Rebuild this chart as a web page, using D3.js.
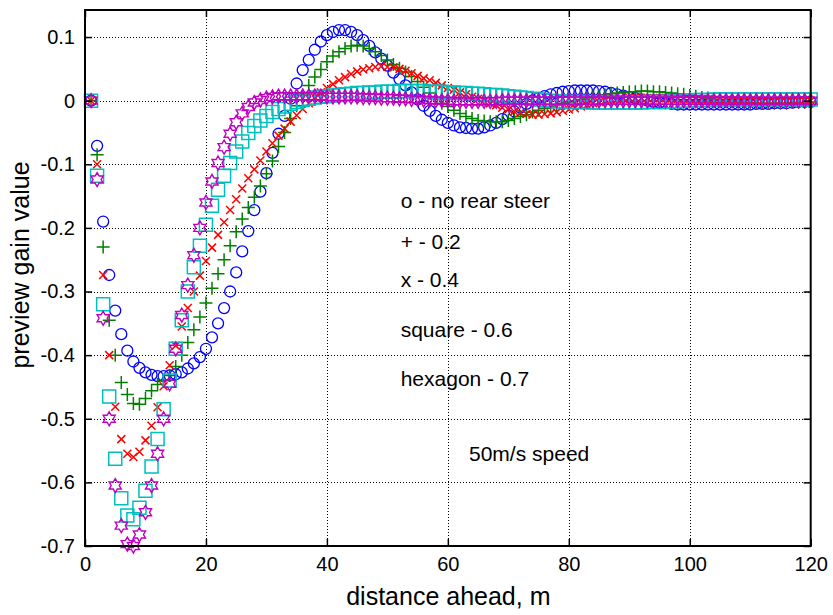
<!DOCTYPE html>
<html>
<head>
<meta charset="utf-8">
<script src="https://cdn.jsdelivr.net/npm/d3@7"></script>
<style>
  body { margin: 0; background: #fff; }
  svg { display: block; }
  text { font-family: "Liberation Sans", Arial, Helvetica, sans-serif; fill: #000; }
</style>
</head>
<body>
<svg id="chart" width="833" height="615"></svg>
<script>
// Preview distance samples (m), one point per metre
const distance = d3.range(1, 121);

// Preview gain for each rear-steer ratio
const noRearSteer = [
  0, -0.071, -0.19, -0.274, -0.33, -0.367, -0.393, -0.41, -0.42, -0.427,
  -0.431, -0.433, -0.433, -0.432, -0.43, -0.427, -0.421, -0.413, -0.403, -0.39,
  -0.372, -0.35, -0.326, -0.3, -0.27, -0.237, -0.205, -0.172, -0.143, -0.114,
  -0.082, -0.052, -0.024, 0.003, 0.027, 0.048, 0.064, 0.08, 0.093, 0.103,
  0.108, 0.111, 0.111, 0.108, 0.103, 0.095, 0.086, 0.076, 0.066, 0.055,
  0.044, 0.034, 0.024, 0.013, 0.002, -0.008, -0.016, -0.024, -0.03, -0.035,
  -0.039, -0.042, -0.043, -0.044, -0.044, -0.042, -0.039, -0.035, -0.029, -0.023,
  -0.017, -0.011, -0.005, 0, 0.004, 0.007, 0.01, 0.012, 0.014, 0.015,
  0.016, 0.016, 0.016, 0.016, 0.015, 0.014, 0.012, 0.01, 0.008, 0.006,
  0.004, 0.002, 0, -0.002, -0.003, -0.004, -0.005, -0.006, -0.006, -0.006,
  -0.006, -0.006, -0.006, -0.006, -0.006, -0.006, -0.006, -0.006, -0.006, -0.006,
  -0.005, -0.005, -0.005, -0.004, -0.004, -0.004, -0.003, -0.002, -0.002, -0.002
];
const ratio02 = [
  0, -0.085, -0.23, -0.345, -0.4, -0.443, -0.462, -0.476, -0.477, -0.468,
  -0.456, -0.446, -0.44, -0.432, -0.418, -0.4, -0.38, -0.36, -0.34, -0.318,
  -0.295, -0.272, -0.25, -0.228, -0.206, -0.186, -0.168, -0.152, -0.134, -0.115,
  -0.095, -0.072, -0.05, -0.028, -0.008, 0.009, 0.024, 0.037, 0.049, 0.061,
  0.07, 0.077, 0.082, 0.086, 0.087, 0.086, 0.082, 0.077, 0.071, 0.064,
  0.057, 0.051, 0.045, 0.038, 0.03, 0.021, 0.012, 0.003, -0.004, -0.009,
  -0.015, -0.02, -0.025, -0.028, -0.031, -0.032, -0.033, -0.033, -0.033, -0.031,
  -0.028, -0.025, -0.022, -0.018, -0.015, -0.012, -0.009, -0.007, -0.004, -0.002,
  0, 0.002, 0.004, 0.006, 0.008, 0.009, 0.011, 0.012, 0.013, 0.014,
  0.014, 0.015, 0.015, 0.014, 0.014, 0.013, 0.012, 0.011, 0.01, 0.008,
  0.007, 0.005, 0.004, 0.002, 0.001, 0, -0.001, -0.002, -0.003, -0.003,
  -0.004, -0.004, -0.004, -0.004, -0.004, -0.004, -0.003, -0.003, -0.003, -0.002
];
const ratio04 = [
  0, -0.1, -0.274, -0.4, -0.481, -0.532, -0.555, -0.56, -0.552, -0.534,
  -0.511, -0.482, -0.449, -0.416, -0.385, -0.355, -0.326, -0.3, -0.275, -0.252,
  -0.231, -0.211, -0.191, -0.172, -0.155, -0.138, -0.122, -0.108, -0.094, -0.08,
  -0.067, -0.055, -0.044, -0.033, -0.023, -0.013, -0.004, 0.005, 0.013, 0.02,
  0.026, 0.032, 0.037, 0.042, 0.046, 0.049, 0.051, 0.053, 0.054, 0.053,
  0.052, 0.05, 0.047, 0.043, 0.039, 0.035, 0.032, 0.028, 0.024, 0.02,
  0.017, 0.013, 0.01, 0.006, 0.003, 0, -0.004, -0.007, -0.011, -0.014,
  -0.017, -0.019, -0.021, -0.022, -0.022, -0.021, -0.02, -0.018, -0.016, -0.014,
  -0.012, -0.009, -0.007, -0.004, -0.002, 0, 0.001, 0.002, 0.003, 0.004,
  0.004, 0.004, 0.004, 0.004, 0.004, 0.004, 0.003, 0.003, 0.003, 0.003,
  0.002, 0.002, 0.002, 0.001, 0.001, 0.001, 0, 0, 0, 0,
  0, -0.001, -0.001, -0.001, -0.001, -0.001, -0.001, 0, 0, 0
];
const ratio06 = [
  0, -0.118, -0.32, -0.465, -0.563, -0.625, -0.652, -0.658, -0.64, -0.613,
  -0.575, -0.532, -0.485, -0.44, -0.39, -0.345, -0.3, -0.262, -0.228, -0.195,
  -0.165, -0.14, -0.118, -0.098, -0.08, -0.064, -0.051, -0.04, -0.031, -0.024,
  -0.018, -0.013, -0.009, -0.005, -0.002, 0.001, 0.003, 0.005, 0.006, 0.007,
  0.008, 0.009, 0.01, 0.011, 0.012, 0.012, 0.013, 0.013, 0.014, 0.014,
  0.014, 0.015, 0.015, 0.015, 0.015, 0.015, 0.014, 0.014, 0.014, 0.013,
  0.013, 0.012, 0.012, 0.011, 0.011, 0.01, 0.009, 0.009, 0.008, 0.007,
  0.006, 0.005, 0.004, 0.003, 0.002, 0.001, 0, -0.001, -0.001, -0.002,
  -0.002, -0.002, -0.002, -0.003, -0.003, -0.003, -0.003, -0.003, -0.003, -0.003,
  -0.003, -0.003, -0.002, -0.002, -0.002, -0.002, -0.001, -0.001, 0, 0,
  0.001, 0.001, 0.001, 0.002, 0.002, 0.002, 0.002, 0.002, 0.002, 0.002,
  0.002, 0.002, 0.002, 0.002, 0.002, 0.002, 0.002, 0.002, 0.002, 0.002
];
const ratio07 = [
  0, -0.124, -0.342, -0.5, -0.605, -0.668, -0.697, -0.7, -0.682, -0.647,
  -0.605, -0.555, -0.5, -0.445, -0.39, -0.337, -0.29, -0.243, -0.2, -0.16,
  -0.127, -0.098, -0.073, -0.052, -0.034, -0.02, -0.01, -0.003, 0.001, 0.004,
  0.006, 0.007, 0.007, 0.007, 0.007, 0.007, 0.007, 0.007, 0.007, 0.006,
  0.006, 0.006, 0.006, 0.006, 0.006, 0.005, 0.005, 0.005, 0.004, 0.004,
  0.004, 0.003, 0.003, 0.002, 0.002, 0.001, 0.001, 0, 0, 0,
  -0.001, -0.001, -0.001, -0.001, -0.001, -0.001, -0.001, -0.001, 0, 0,
  0, 0, 0, 0, 0, 0, 0, 0, 0, 0,
  0, 0, 0, 0, 0, 0, 0, 0, 0, 0,
  0, 0, 0, 0, 0, 0, 0, 0, 0, 0,
  0, 0, 0, 0, 0, 0, 0, 0, 0, 0,
  0, 0, 0, 0, 0, 0, 0, 0, 0, 0
];

const xTicks = [0, 20, 40, 60, 80, 100, 120];
const yTicks = [-0.7, -0.6, -0.5, -0.4, -0.3, -0.2, -0.1, 0, 0.1];
const yTickLabels = ["-0.7", "-0.6", "-0.5", "-0.4", "-0.3", "-0.2", "-0.1", "0", "0.1"];

const notes = ["o - no rear steer", "+ - 0.2", "x - 0.4", "square - 0.6", "hexagon - 0.7"];
const speedNote = "50m/s speed";
const xTitle = "distance ahead, m";
const yTitle = "preview gain value";

// ---------------------------------------------------------------------------
const svg = d3.select("#chart");
const L = 85, R = 810.7, T = 10, B = 546;

const x = d3.scaleLinear().domain([0, 120]).range([L, R]);
const y = d3.scaleLinear().domain([-0.7, 0.1425]).range([B, T]);

// dotted grid
const grid = svg.append("g").attr("stroke", "#000").attr("stroke-width", 1)
  .attr("stroke-dasharray", "1,2");
grid.selectAll("line.v").data(xTicks.slice(1, -1)).join("line")
  .attr("x1", d => Math.round(x(d)) + 0.5).attr("x2", d => Math.round(x(d)) + 0.5)
  .attr("y1", T).attr("y2", B);
grid.selectAll("line.h").data(yTicks.slice(1)).join("line")
  .attr("x1", L).attr("x2", R)
  .attr("y1", d => Math.round(y(d)) + 0.5).attr("y2", d => Math.round(y(d)) + 0.5);

// marker shapes
function hexagramPath(rOut) {
  const rIn = rOut / Math.sqrt(3);
  const pts = [];
  for (let k = 0; k < 12; k++) {
    const a = -Math.PI / 2 + k * Math.PI / 6;
    const r = k % 2 === 0 ? rOut : rIn;
    pts.push([r * Math.cos(a), r * Math.sin(a)]);
  }
  return "M" + pts.map(p => p[0].toFixed(2) + "," + p[1].toFixed(2)).join("L") + "Z";
}
const markers = {
  circle: "M5.5,0A5.5,5.5 0 1,1 -5.5,0A5.5,5.5 0 1,1 5.5,0Z",
  plus: "M-6.5,0H6.5M0,-6.5V6.5",
  cross: "M-4,-4L4,4M-4,4L4,-4",
  square: "M-6.5,-6.5H6.5V6.5H-6.5Z",
  hexagram: hexagramPath(7)
};

const series = [
  { values: noRearSteer, color: "#0000ff", shape: "circle", width: 1.3 },
  { values: ratio02, color: "#008000", shape: "plus", width: 1.5 },
  { values: ratio04, color: "#ff0000", shape: "cross", width: 1.5 },
  { values: ratio06, color: "#00bfbf", shape: "square", width: 1.5 },
  { values: ratio07, color: "#bf00bf", shape: "hexagram", width: 1.4 }
];

const plot = svg.append("g");
series.forEach(s => {
  plot.append("g")
    .selectAll("path")
    .data(distance.map((d, i) => [d, s.values[i]]))
    .join("path")
    .attr("transform", d => `translate(${x(d[0])},${y(d[1])})`)
    .attr("d", markers[s.shape])
    .attr("fill", "none")
    .attr("stroke", s.color)
    .attr("stroke-width", s.width);
});

// axes with inward ticks
const fmtY = d => yTickLabels[yTicks.indexOf(d)];
const axB = svg.append("g").attr("transform", `translate(0,${B})`)
  .call(d3.axisBottom(x).tickValues(xTicks).tickSize(-7).tickSizeOuter(0).tickPadding(11));
const axL = svg.append("g").attr("transform", `translate(${L},0)`)
  .call(d3.axisLeft(y).tickValues(yTicks).tickFormat(fmtY).tickSize(-7).tickSizeOuter(0).tickPadding(10));
const axT = svg.append("g").attr("transform", `translate(0,${T})`)
  .call(d3.axisTop(x).tickValues(xTicks).tickFormat("").tickSize(-7).tickSizeOuter(0));
const axR = svg.append("g").attr("transform", `translate(${R},0)`)
  .call(d3.axisRight(y).tickValues(yTicks).tickFormat("").tickSize(-7).tickSizeOuter(0));

[axB, axL, axT, axR].forEach(a => {
  a.select(".domain").remove();
  a.selectAll(".tick line").attr("stroke", "#000").attr("stroke-width", 1.5);
  a.selectAll("text").attr("font-size", 20).attr("font-family", null).attr("fill", "#000");
});

// plot box
svg.append("rect")
  .attr("x", L).attr("y", T).attr("width", R - L).attr("height", B - T)
  .attr("fill", "none").attr("stroke", "#000").attr("stroke-width", 2);

// axis titles
svg.append("text")
  .attr("x", (L + R) / 2 + 0.5).attr("y", 605)
  .attr("text-anchor", "middle").attr("font-size", 25)
  .text(xTitle);
svg.append("text")
  .attr("transform", `translate(29,${265}) rotate(-90)`)
  .attr("text-anchor", "middle").attr("font-size", 25)
  .text(yTitle);

// annotations
const noteY = [207.5, 248.5, 287, 337, 386];
svg.append("g").selectAll("text").data(notes).join("text")
  .attr("x", x(52.2)).attr("y", (d, i) => noteY[i])
  .attr("font-size", 21)
  .text(d => d);
svg.append("text")
  .attr("x", x(63.5)).attr("y", 461)
  .attr("font-size", 21)
  .text(speedNote);
</script>
</body>
</html>
